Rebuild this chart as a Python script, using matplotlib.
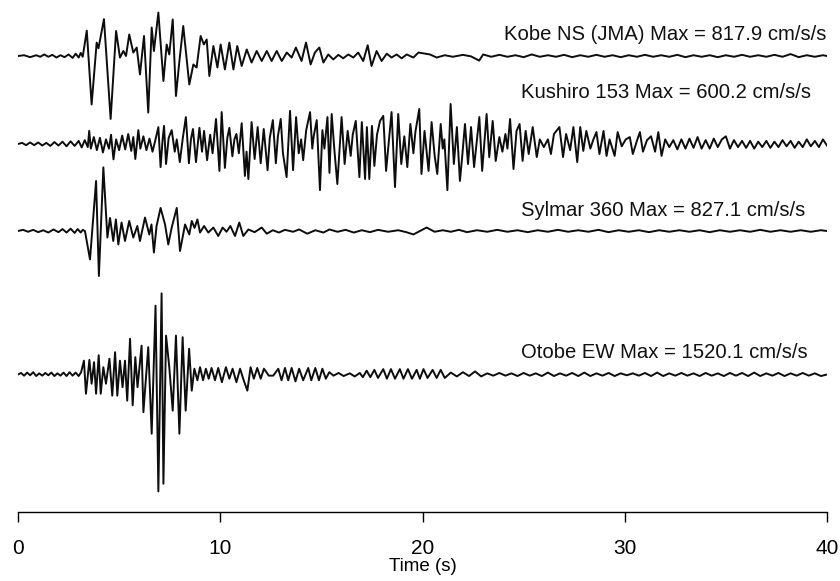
import matplotlib.pyplot as plt
from matplotlib import font_manager

# ------------------------------------------------------------------
# accelerograms: time (s) and acceleration (cm/s/s)
# ------------------------------------------------------------------
kobe_t = [0.0, 0.3, 0.6, 0.9, 1.1, 1.3, 1.5, 1.7, 1.9, 2.1,
          2.3, 2.5, 2.7, 2.85, 3.0, 3.1, 3.2,
          3.40, 3.64, 3.89, 3.98, 4.25, 4.58, 4.85, 5.04, 5.21, 5.34,
          5.50, 5.70, 5.87, 6.03, 6.23, 6.44, 6.61, 6.72, 6.94, 7.19,
          7.35, 7.48, 7.65, 7.81, 7.98, 8.17, 8.47, 8.67, 8.83, 9.03,
          9.19, 9.33, 9.46, 9.66, 9.86, 10.02, 10.23, 10.45, 10.65, 10.84,
          11.06, 11.31, 11.55, 11.8, 12.05, 12.3, 12.54, 12.79, 13.04, 13.29,
          13.53, 13.74, 14.02, 14.24, 14.47, 14.68, 14.9, 15.1, 15.34, 15.59,
          15.84, 16.08, 16.33, 16.58, 16.82, 17.07, 17.29, 17.48, 17.73, 17.98,
          18.23, 18.47, 18.72, 18.97, 19.22, 19.55, 19.8,
          20.37, 20.7, 21.1, 21.5, 22.0, 22.4, 22.8, 23.0, 23.4,
          23.8, 24.2, 24.6, 25.0, 25.4, 25.8, 26.2, 26.6, 27.0, 27.4,
          27.8, 28.2, 28.6, 29.0, 29.4, 29.8, 30.2, 30.6, 31.0, 31.4,
          31.8, 32.2, 32.6, 33.0, 33.4, 33.8, 34.2, 34.6, 35.0, 35.4,
          35.8, 36.2, 36.6, 37.0, 37.4, 37.8, 38.2, 38.6, 39.0, 39.4,
          39.8, 40.0]
kobe_a = [0, 10, -15, 10, -10, 20, -10, 15, -20, 10,
          -15, 20, -25, 30, -20, 40, -10,
          330, -630, 175, 100, 480, -818, 325, -20, 65, 0,
          280, 45, 110, -240, 260, -735, 370, 65, 565, -325,
          150, 20, 475, -520, -65, 390, -370, -110, -150, 260,
          150, 215, -260, 130, -150, 150, -175, 175, -175, 130,
          -130, 85, -85, 65, -65, 65, -65, 65, -65, 45,
          -20, 110, -65, 175, -110, 45, 110, -85, 20, -45,
          15, -30, 20, -20, 45, -65, 140, -130, 65, -65,
          30, -20, 20, -30, 20, -20, 45,
          20, -20, 10, -10, 15, -5, -60, 20, -10,
          15, -10, 10, -15, 20, -10, 10, -10, 15, -15,
          10, -10, 15, -10, 10, -15, 10, -10, 15, -10,
          10, -10, 15, -15, 10, -10, 10, -15, 10, -10,
          15, -10, 10, -10, 15, -10, 25, -15, 10, -10,
          10, 0]

kushiro_t = [0.0, 0.2, 0.4, 0.6, 0.8, 1.0, 1.2, 1.4, 1.6, 1.8,
             2.0, 2.2, 2.4, 2.6, 2.8, 3.0, 3.15, 3.3, 3.45, 3.52,
             3.6, 3.75, 3.9, 4.05, 4.2, 4.35, 4.5, 4.6, 4.72, 4.85,
             5.0, 5.15, 5.3, 5.45, 5.6, 5.7, 5.8, 5.95, 6.05, 6.2,
             6.35, 6.5, 6.65, 6.8, 6.94, 7.05, 7.15, 7.22, 7.32, 7.45,
             7.6, 7.75, 7.85, 8.0, 8.15, 8.3, 8.45, 8.55, 8.65, 8.8,
             8.97, 9.1, 9.2, 9.35, 9.5, 9.62, 9.79, 9.96, 10.07, 10.23,
             10.35, 10.45, 10.6, 10.7, 10.8, 10.92, 11.06, 11.22, 11.3, 11.39,
             11.55, 11.7, 11.85, 12.0, 12.15, 12.34, 12.45, 12.6, 12.75, 12.85,
             12.99, 13.1, 13.28, 13.45, 13.6, 13.75, 13.88, 14.0, 14.1, 14.25,
             14.44, 14.55, 14.62, 14.77, 14.93, 15.05, 15.15, 15.3, 15.4, 15.51,
             15.65, 15.79, 16.0, 16.15, 16.3, 16.45, 16.55, 16.7, 16.88, 17.0,
             17.16, 17.25, 17.37, 17.5, 17.62, 17.75, 17.9, 18.06, 18.2, 18.47,
             18.64, 18.8, 18.95, 19.1, 19.25, 19.4, 19.55, 19.65, 19.84, 19.95,
             20.1, 20.3, 20.45, 20.6, 20.73, 20.9, 21.0, 21.08, 21.23, 21.39,
             21.55, 21.7, 21.85, 21.95, 22.1, 22.25, 22.4, 22.55, 22.81, 22.95,
             23.17, 23.3, 23.47, 23.62, 23.8, 23.95, 24.1, 24.2, 24.33, 24.5,
             24.65, 24.8, 24.95, 25.1, 25.25, 25.45, 25.65, 25.8, 26.0, 26.2,
             26.35, 26.5, 26.77, 26.95, 27.1, 27.3, 27.46, 27.65, 27.8, 27.95,
             28.1, 28.3, 28.45, 28.6, 28.75, 28.95, 29.1, 29.25, 29.5, 29.65,
             29.85, 30.05, 30.25, 30.4, 30.6, 30.75, 30.9, 31.1, 31.3, 31.5,
             31.66, 31.82, 32.0, 32.2, 32.4, 32.6, 32.8, 33.0, 33.2, 33.4,
             33.6, 33.8, 34.0, 34.2, 34.4, 34.6, 34.8, 35.0, 35.2, 35.4,
             35.6, 35.8, 36.0, 36.2, 36.4, 36.6, 36.8, 37.0, 37.2, 37.4,
             37.6, 37.8, 38.0, 38.2, 38.4, 38.6, 38.8, 39.0, 39.2, 39.4,
             39.6, 39.8, 40.0]
kushiro_a = [0, 15, -15, 20, -15, 20, -20, 15, -25, 25,
             -20, 30, -30, 35, -25, 40, -45, 50, -40, 170,
             -60, 90, -80, 80, -110, 60, -60, 120, -200, 60,
             -80, 110, -70, 130, -90, 90, -195, 180, -60, 100,
             -80, 70, -100, 60, 220, -300, 60, 235, -260, 80,
             180, -100, 60, -235, 80, 350, -250, 60, 195, -235,
             210, -100, 170, -210, 120, -120, 325, -350, 415, -310,
             80, 210, -160, 60, 130, -120, 270, -415, -100, -455,
             285, -195, 220, -250, 195, -340, 80, 310, -250, 100,
             325, -120, -430, 430, -340, 350, -120, 60, -210, 180,
             415, -60, 100, 310, -600, 180, -60, 350, -375, 390,
             -100, -520, 350, -260, 170, -155, 120, 300, -430, 285,
             -455, 220, -455, 235, -285, 120, 300, 365, -350, 415,
             -560, 390, -260, 100, -300, 260, -120, 160, 455, -390,
             170, -350, 285, -150, -390, 260, -60, 60, -600, 520,
             -260, 220, -480, -200, 260, -260, 220, -300, 350, -350,
             390, -170, 300, -220, 90, -100, 130, -60, 325, -325,
             170, 260, -220, 170, -130, 220, -170, 60, -40, 60,
             -130, 130, 220, -170, 130, -80, 220, -235, 220, -90,
             170, -60, 60, 155, -130, 170, -155, 60, -155, 155,
             -30, 60, 90, -130, 40, 155, -100, 50, 100, -100,
             155, -155, 60, -40, 50, -70, 60, -60, 70, -50,
             90, -60, 50, -60, 70, -40, 60, 100, -60, 50,
             -40, 40, -50, 40, -60, 30, -40, 40, -50, 30,
             -40, 50, -30, 40, -50, 30, -40, 60, -30, 40,
             -40, 60, -20]

sylmar_t = [0.0, 0.25, 0.5, 0.75, 1.0, 1.25, 1.5, 1.75, 2.0, 2.2,
            2.4, 2.6, 2.8, 2.95, 3.1, 3.2,
            3.31, 3.56, 3.86, 4.0, 4.22, 4.42, 4.55, 4.71, 4.84, 4.96,
            5.12, 5.29, 5.5, 5.7, 5.9, 6.03, 6.28, 6.49, 6.6, 6.72,
            6.85, 7.05, 7.27, 7.43, 7.6, 7.85, 8.01, 8.26, 8.47, 8.59,
            8.73, 8.87, 9.0, 9.2, 9.41, 9.66, 9.9, 10.12, 10.31, 10.5, 10.73,
            10.94, 11.14, 11.39, 11.7, 12.05, 12.3, 12.6, 12.9, 13.2, 13.6,
            13.9, 14.3, 14.7, 15.1, 15.4, 15.8, 16.2, 16.6, 17.0, 17.4,
            17.8, 18.3, 18.8, 19.2, 19.55, 20.2, 20.6, 21.0, 21.4, 21.8,
            22.2, 22.7, 23.2, 23.7, 24.2, 24.7, 25.2, 25.7, 26.2, 26.7,
            27.2, 27.7, 28.2, 28.7, 29.2, 29.7, 30.2, 30.7, 31.2, 31.7,
            32.2, 32.7, 33.2, 33.7, 34.2, 34.7, 35.2, 35.7, 36.2, 36.7,
            37.2, 37.7, 38.2, 38.7, 39.2, 39.7, 40.0]
sylmar_a = [0, 15, -10, 15, -15, 10, -20, 20, -15, 25,
            -20, 30, -25, 25, -20, 15,
            0, -370, 650, -585, 827, -85, 170, -130, 150, -175,
            110, -130, 130, -85, 65, -130, 175, -45, 85, -280,
            65, 300, 85, -175, 45, 300, -260, 85, -45, 130,
            40, 150, -20, 65, -20, 45, -65, 45, -10, 65, -65,
            110, -65, 20, -15, 45, -35, 10, -20, 15, -10,
            20, -35, 10, -20, 20, -10, 15, -20, 10, -15,
            15, -10, 10, -15, -45, 45, -10, 10, -10, 15,
            -15, 10, -10, 15, -10, 10, -15, 10, -10, 15,
            -10, 10, -10, 15, -15, 10, -10, 10, -15, 10,
            -10, 10, -10, 10, -15, 10, -10, 10, -10, 15,
            -10, 10, -10, 10, -10, 10, 0]

otobe_t = [0.0, 0.15, 0.3, 0.45, 0.6, 0.75, 0.9, 1.05, 1.2, 1.35,
           1.5, 1.65, 1.8, 1.95, 2.1, 2.25, 2.4, 2.55, 2.7, 2.85,
           3.0, 3.12,
           3.26, 3.36, 3.53, 3.64, 3.76, 3.86, 3.99, 4.09, 4.22, 4.35,
           4.52, 4.66, 4.8, 4.91, 5.04, 5.17, 5.29, 5.4, 5.54, 5.67,
           5.8, 5.91, 6.11, 6.2, 6.44, 6.61, 6.8, 6.94, 7.1, 7.19,
           7.32, 7.48, 7.65, 7.81, 7.98, 8.14, 8.29, 8.46, 8.59, 8.72,
           8.87, 9.0, 9.15, 9.29, 9.43, 9.57, 9.74, 9.9, 10.08, 10.28,
           10.45, 10.61, 10.8, 10.98, 11.16, 11.34, 11.5, 11.66, 11.83, 12.0,
           12.16, 12.4, 12.62, 12.87, 13.03, 13.2, 13.36, 13.53, 13.72, 13.9,
           14.1, 14.35, 14.5, 14.7, 14.88, 15.05, 15.22, 15.39, 15.6, 15.85,
           16.1, 16.4, 16.65, 16.9, 17.05, 17.24, 17.42, 17.62, 17.8, 18.06,
           18.24, 18.44, 18.64, 18.88, 19.06, 19.28, 19.48, 19.71, 19.87, 20.05,
           20.25, 20.5, 20.7, 20.9, 21.1, 21.4, 21.7, 22.0, 22.3, 22.6,
           22.9, 23.2,
           23.5, 23.8, 24.1, 24.4, 24.7, 25.0, 25.3, 25.6, 25.9, 26.2,
           26.5, 26.8, 27.1, 27.4, 27.7, 28.0, 28.3, 28.6, 28.9, 29.2,
           29.5, 29.8, 30.1, 30.4, 30.7, 31.0, 31.3, 31.6, 31.9, 32.2,
           32.5, 32.8, 33.1, 33.4, 33.7, 34.0, 34.3, 34.6, 34.9, 35.2,
           35.5, 35.8, 36.1, 36.4, 36.7, 37.0, 37.3, 37.6, 37.9, 38.2,
           38.5, 38.8, 39.1, 39.4, 39.7, 40.0]
otobe_a = [0, 20, -15, 25, -10, 30, -20, 15, -15, 20,
           -10, 25, -20, 15, -15, 25, -20, 30, -15, 25,
           -20, 30,
           180, -250, 190, -120, 160, -250, 250, -250, 95, -120,
           205, -275, 290, -275, 180, -165, 180, -340, 465, -400,
           225, -165, 375, -490, 355, -770, 895, -1520, 1055, -1420,
           505, 95, -470, 505, -770, 485, -470, 335, -210, 75,
           -75, 95, -75, 75, -55, 85, -75, 85, -100, 95,
           -55, 75, -100, 75, -75, -210, 95, -55, 85, -55,
           75, -15, -15, 75, -75, 85, -75, 85, -90, 75,
           -75, 85, -75, 85, -75, 75, -55, 30, -15, 20,
           -20, 15, -25, 20, -35, 50, -35, 60, -45, 70,
           -55, 70, -55, 70, -55, 70, -55, 60, -55, 70,
           -45, 60, -45, 60, -45, 25, -25, 30, -20, 40,
           -25, 15,
           -15, 20, -15, 15, -20, 20, -15, 15, -20, 25,
           -20, 15, -15, 20, -20, 25, -20, 15, -15, 20,
           -20, 15, -10, 15, -15, 20, -20, 25, -20, 15,
           -15, 20, -15, 15, -20, 20, -15, 15, -20, 20,
           -15, 20, -20, 25, -20, 15, -15, 20, -20, 15,
           -15, 20, -15, 15, -20, 0]

labels = ["Kobe NS (JMA) Max = 817.9 cm/s/s",
          "Kushiro 153 Max = 600.2 cm/s/s",
          "Sylmar 360 Max = 827.1 cm/s/s",
          "Otobe EW Max = 1520.1 cm/s/s"]
time_ticks = [0, 10, 20, 30, 40]

# ------------------------------------------------------------------
# layout: 13 cm/s/s per pixel, traces stacked on fixed baselines
# ------------------------------------------------------------------
GAL_PER_PX = 13.0
baselines = [456 * GAL_PER_PX, 368 * GAL_PER_PX, 281 * GAL_PER_PX, 137.5 * GAL_PER_PX]
label_x = [24.03, 24.87, 24.87, 24.87]
label_y = [477 * GAL_PER_PX, 420 * GAL_PER_PX, 302 * GAL_PER_PX, 159 * GAL_PER_PX]

names = {f.name for f in font_manager.fontManager.ttflist}
tick_font = 'Liberation Sans Narrow' if 'Liberation Sans Narrow' in names else 'Liberation Sans'

fig = plt.figure(figsize=(8.4, 5.81), dpi=100)
ax = fig.add_axes([18 / 840, 69 / 581, 809 / 840, 512 / 581])

series = [(kobe_t, kobe_a), (kushiro_t, kushiro_a), (sylmar_t, sylmar_a), (otobe_t, otobe_a)]
for (t, a), base, lab, lx, ly in zip(series, baselines, labels, label_x, label_y):
    ax.plot(t, [base + v for v in a], color='#0d0d0d', lw=1.4, solid_joinstyle='round')
    ax.text(lx, ly, lab, ha='left', va='center', fontsize=14.6,
            family='Liberation Sans', color='#111111')

ax.set_xlim(0, 40)
ax.set_ylim(0, 512 * GAL_PER_PX)
for s in ['left', 'right', 'top']:
    ax.spines[s].set_visible(False)
ax.spines['bottom'].set_linewidth(1.0)
ax.set_yticks([])
ax.set_xticks(time_ticks)
ax.tick_params(axis='x', direction='out', length=7.5, width=1.0, pad=12)
for lbl in ax.get_xticklabels():
    lbl.set_fontfamily(tick_font)
    lbl.set_fontsize(15)
ax.set_xlabel('Time (s)', fontsize=13.5, family=tick_font, labelpad=0)

fig.savefig('out.png', dpi=100)
